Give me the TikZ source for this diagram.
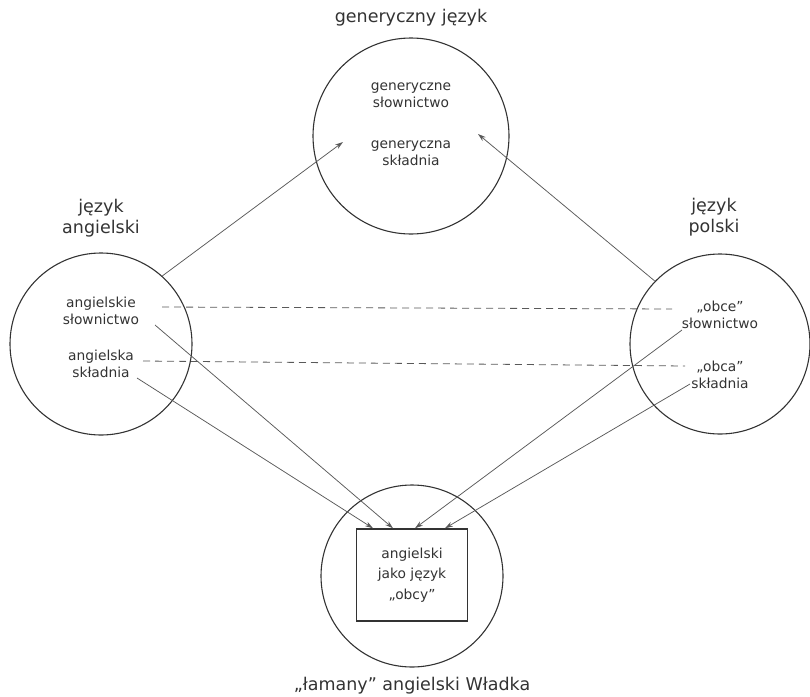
\documentclass[tikz,border=0pt]{standalone}
\usepackage{fontspec}
\setmainfont{DejaVu Sans}
\usetikzlibrary{arrows.meta}

\definecolor{inkgray}{HTML}{333333}
\definecolor{linegray}{HTML}{595959}

\begin{document}
\begin{tikzpicture}[x=1pt,y=-1pt,
    ring/.style={draw=inkgray, line width=1.1pt, circle, inner sep=0pt},
    heading/.style={align=center, text=inkgray, font=\fontsize{17.5}{20.5}\selectfont},
    inner/.style={align=center, text=inkgray, font=\fontsize{13.8}{17.5}\selectfont},
    link/.style={draw=linegray, line width=0.75pt, -{Stealth[length=8pt,width=5pt]}},
    tie/.style={draw=linegray, line width=0.8pt, dash pattern=on 7pt off 5pt}]
    \useasboundingbox (0,0) rectangle (810,696);
    % circles
    \node[ring, minimum size=196pt] (gc) at (411,136) {};
    \node[ring, minimum size=182pt] (ac) at (101,344) {};
    \node[ring, minimum size=180pt] (pc) at (720,344) {};
    \node[ring, minimum size=182pt] (wc) at (412,576) {};
    \node[draw=inkgray, line width=1.5pt, minimum width=111pt, minimum height=92pt,
          align=center, text=inkgray, font=\fontsize{13.8}{20.5}\selectfont]
          (box) at (412,575) {angielski\\jako język\\„obcy”};
    % headings
    \node[heading] (gt) at (411,18) {generyczny język};
    \node[heading] (at) at (101,218) {język\\angielski};
    \node[heading] (pt) at (714,217) {język\\polski};
    \node[heading] (wt) at (412,686) {„łamany” angielski Władka};
    % texts inside the circles
    \node[inner] (gsl) at (411,95) {generyczne\\słownictwo};
    \node[inner] (gsk) at (411,153) {generyczna\\składnia};
    \node[inner] (asl) at (101,311) {angielskie\\słownictwo};
    \node[inner] (ask) at (101,364) {angielska\\składnia};
    \node[inner] (psl) at (720,315) {„obce”\\słownictwo};
    \node[inner] (psk) at (720,375) {„obca”\\składnia};
    % line ends
    \coordinate (gin1) at (343,142);
    \coordinate (gin2) at (478,134);
    \coordinate (d1a) at (162,307);
    \coordinate (d1b) at (672,309);
    \coordinate (d2a) at (143,361);
    \coordinate (d2b) at (685,366);
    \coordinate (asl0) at (155,325);
    \coordinate (ask0) at (137,378);
    \coordinate (psl0) at (682,330);
    \coordinate (psk0) at (690,384);
    % connectors
    \draw[link] (ac.48) -- (gin1);
    \draw[link] (pc.136) -- (gin2);
    \draw[tie] (d1a) -- (d1b);
    \draw[tie] (d2a) -- (d2b);
    \draw[link] (ask0) -- ([xshift=-39pt]box.north);
    \draw[link] (asl0) -- ([xshift=-19pt]box.north);
    \draw[link] (psl0) -- ([xshift=3pt]box.north);
    \draw[link] (psk0) -- ([xshift=33pt]box.north);
\end{tikzpicture}
\end{document}
